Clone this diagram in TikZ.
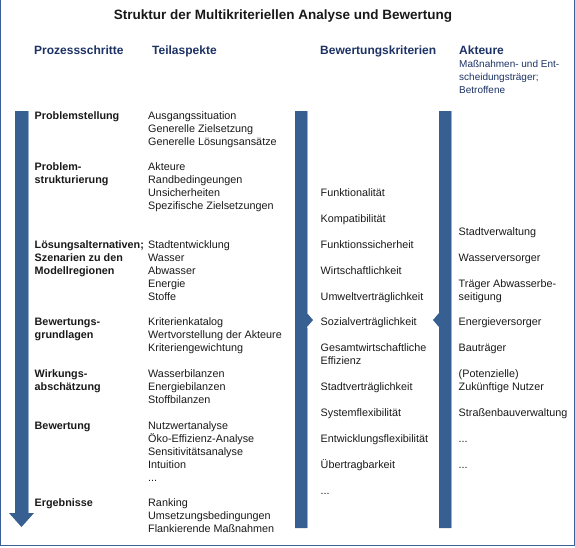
\documentclass[tikz,border=0pt]{standalone}
\usepackage{fontspec}
\setmainfont{Liberation Sans}
\definecolor{barc}{RGB}{55,95,145}
\definecolor{baredge}{RGB}{150,175,205}
\definecolor{hdrc}{RGB}{28,50,100}
\definecolor{bodyc}{RGB}{25,25,25}
\definecolor{borderc}{RGB}{58,96,150}
\begin{document}
\begin{tikzpicture}[x=1pt,y=-1pt,
  bodytxt/.style={anchor=north west, inner sep=0pt, align=left, font=\fontsize{10.8}{13}\selectfont, text=bodyc},
  phasetxt/.style={bodytxt, font=\fontsize{10.8}{13}\selectfont\bfseries},
  hdr/.style={anchor=base west, inner sep=0pt, font=\fontsize{12}{14}\selectfont\bfseries, text=hdrc},
  subhdr/.style={anchor=north west, inner sep=0pt, align=left, font=\fontsize{10}{13}\selectfont, text=hdrc},
  barfill/.style={fill=barc, draw=none},
  baredgeline/.style={draw=baredge, line width=0.8pt}]
\useasboundingbox (0,0) rectangle (575,547);
% frame
\draw[borderc, line width=1.3pt] (0.8,0) -- (0.8,545.6) -- (574.2,545.6) -- (574.2,0);
% title
\node[anchor=base, inner sep=0pt, font=\fontsize{13.5}{16}\selectfont\bfseries, text=bodyc] (title) at (283,19) {Struktur der Multikriteriellen Analyse und Bewertung};
% headers
\node[hdr] (h1) at (34,54.5) {Prozessschritte};
\node[hdr] (h2) at (152,54.5) {Teilaspekte};
\node[hdr] (h3) at (320,54.5) {Bewertungskriterien};
\node[hdr] (h4) at (459,54.5) {Akteure};
\node[subhdr] (h4s) at (459,58.5) {\strut Maßnahmen- und Ent-\\scheidungsträger;\\Betroffene};
% bars
\fill[barfill] (15,111) -- (28,111) -- (28,513) -- (34,513) -- (21.5,527) -- (9,513) -- (15,513) -- cycle;
\draw[baredgeline] (28.4,111) -- (28.4,512.5);
\fill[barfill] (295,111) -- (307,111) -- (307,313) -- (313,320) -- (307,327) -- (307,528) -- (295,528) -- cycle;
\draw[baredgeline] (307.4,111) -- (307.4,312.5);
\draw[baredgeline] (307.4,327.5) -- (307.4,528);
\fill[barfill] (439,111) -- (451,111) -- (451,528) -- (439,528) -- (439,327) -- (433,320) -- (439,313) -- cycle;
\draw[baredgeline] (451.4,111) -- (451.4,528);
% column 1
\node[phasetxt] (p1) at (34.5,110) {\strut Problemstellung};
\node[phasetxt] (p2) at (34.5,161) {\strut Problem-\\strukturierung};
\node[phasetxt] (p3) at (34.5,239) {\strut Lösungsalternativen;\\Szenarien zu den\\Modellregionen};
\node[phasetxt] (p4) at (34.5,316) {\strut Bewertungs-\\grundlagen};
\node[phasetxt] (p5) at (34.5,368) {\strut Wirkungs-\\abschätzung};
\node[phasetxt] (p6) at (34.5,420) {\strut Bewertung};
\node[phasetxt] (p7) at (34.5,497) {\strut Ergebnisse};
% column 2
\node[bodytxt] (t1) at (148,110) {\strut Ausgangssituation\\Generelle Zielsetzung\\Generelle Lösungsansätze};
\node[bodytxt] (t2) at (148,161) {\strut Akteure\\Randbedingeungen\\Unsicherheiten\\Spezifische Zielsetzungen};
\node[bodytxt] (t3) at (148,239) {\strut Stadtentwicklung\\Wasser\\Abwasser\\Energie\\Stoffe};
\node[bodytxt] (t4) at (148,316) {\strut Kriterienkatalog\\Wertvorstellung der Akteure\\Kriteriengewichtung};
\node[bodytxt] (t5) at (148,368) {\strut Wasserbilanzen\\Energiebilanzen\\Stoffbilanzen};
\node[bodytxt] (t6) at (148,420) {\strut Nutzwertanalyse\\Öko-Effizienz-Analyse\\Sensitivitätsanalyse\\Intuition\\...};
\node[bodytxt] (t7) at (148,497) {\strut Ranking\\Umsetzungsbedingungen\\Flankierende Maßnahmen};
% column 3
\node[bodytxt] (k1) at (320.5,187) {\strut Funktionalität};
\node[bodytxt] (k2) at (320.5,213) {\strut Kompatibilität};
\node[bodytxt] (k3) at (320.5,239) {\strut Funktionssicherheit};
\node[bodytxt] (k4) at (320.5,265) {\strut Wirtschaftlichkeit};
\node[bodytxt] (k5) at (320.5,291) {\strut Umweltverträglichkeit};
\node[bodytxt] (k6) at (320.5,316) {\strut Sozialverträglichkeit};
\node[bodytxt] (k7) at (320.5,342) {\strut Gesamtwirtschaftliche\\Effizienz};
\node[bodytxt] (k8) at (320.5,381) {\strut Stadtverträglichkeit};
\node[bodytxt] (k9) at (320.5,407) {\strut Systemflexibilität};
\node[bodytxt] (k10) at (320.5,433) {\strut Entwicklungsflexibilität};
\node[bodytxt] (k11) at (320.5,459) {\strut Übertragbarkeit};
\node[bodytxt] (k12) at (320.5,485) {\strut ...};
% column 4
\node[bodytxt] (a1) at (458.5,226) {\strut Stadtverwaltung};
\node[bodytxt] (a2) at (458.5,252) {\strut Wasserversorger};
\node[bodytxt] (a3) at (458.5,278) {\strut Träger Abwasserbe-\\seitigung};
\node[bodytxt] (a4) at (458.5,316) {\strut Energieversorger};
\node[bodytxt] (a5) at (458.5,342) {\strut Bauträger};
\node[bodytxt] (a6) at (458.5,368) {\strut (Potenzielle)\\Zukünftige Nutzer};
\node[bodytxt] (a7) at (458.5,407) {\strut Straßenbauverwaltung};
\node[bodytxt] (a8) at (458.5,433) {\strut ...};
\node[bodytxt] (a9) at (458.5,459) {\strut ...};
\end{tikzpicture}
\end{document}
